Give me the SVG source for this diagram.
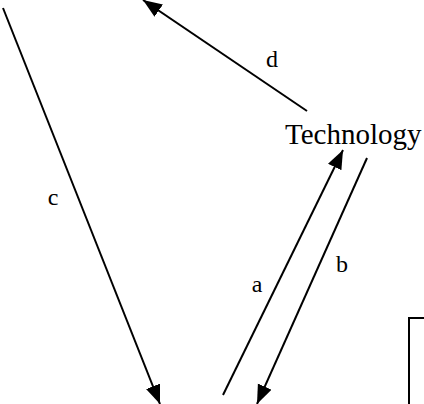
<svg xmlns="http://www.w3.org/2000/svg" width="424" height="404" viewBox="0 0 424 404">
<defs>
<style>
.edge{stroke:#000;stroke-width:2;fill:none}
.lbl{font-family:"Liberation Serif","Times New Roman",serif;font-size:24px;fill:#000}
</style>
<marker id="ah" markerUnits="userSpaceOnUse" markerWidth="22" markerHeight="18" refX="19" refY="7.5" orient="auto">
<path d="M0,0 L19,7.5 L0,15 Z" fill="#000"/>
</marker>
</defs>
<rect width="424" height="404" fill="#fff"/>
<g id="node-technology">
<text x="285" y="144" style="font-family:'Liberation Serif','Times New Roman',serif;font-size:29px;fill:#000">Technology</text>
</g>
<g id="node-box">
<path d="M409,404 L409,318 L426,318" class="edge" stroke-width="2.5"/>
</g>
<g id="connectors">
<line x1="307" y1="111" x2="143" y2="0" class="edge" marker-end="url(#ah)"/>
<line x1="3" y1="8" x2="160" y2="404" class="edge" marker-end="url(#ah)"/>
<line x1="223" y1="395" x2="343" y2="150" class="edge" marker-end="url(#ah)"/>
<line x1="367" y1="158" x2="257" y2="404" class="edge" marker-end="url(#ah)"/>
<text class="lbl" x="272" y="67" text-anchor="middle">d</text>
<text class="lbl" x="53" y="205" text-anchor="middle">c</text>
<text class="lbl" x="257" y="292" text-anchor="middle">a</text>
<text class="lbl" x="342" y="272" text-anchor="middle">b</text>
</g>
</svg>
